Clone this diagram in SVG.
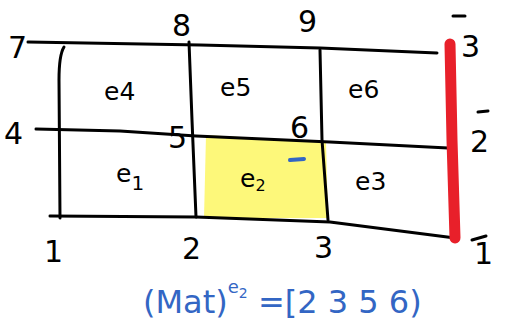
<svg xmlns="http://www.w3.org/2000/svg" width="511" height="329" viewBox="0 0 511 329">
<style>
.ln{fill:none;stroke:#000;stroke-width:3;stroke-linecap:round;stroke-linejoin:round}
.t{font-family:"DejaVu Sans",sans-serif;font-size:30px;fill:#000}
.e{font-family:"DejaVu Sans",sans-serif;font-size:25px;fill:#000}
.b{font-family:"DejaVu Sans",sans-serif;fill:#3366c4}
</style>
<rect width="511" height="329" fill="#fff"/>
<g id="highlight">
<path d="M206,135 L326,142 L328,218 L204,218 Z" fill="#fdf87a"/>
</g>
<g id="connectors">
<path class="ln" d="M28,42 L200,45 L320,48 L437,53"/>
<path class="ln" d="M36,129 L120,131 L196,136 L330,142 L448,148"/>
<path class="ln" d="M50,216 L196,217 L330,222 L455,238"/>
<path class="ln" d="M64,47 Q59,55 59,80 L60,218"/>
<path class="ln" d="M189,42 L192,120 L196,217"/>
<path class="ln" d="M320,50 L322,140 L328,220"/>
<path d="M450,44 L452,140 L455,238" fill="none" stroke="#e8202a" stroke-width="11" stroke-linecap="round"/>
<path d="M290,160 L304,159" stroke="#3366c4" stroke-width="4" stroke-linecap="round"/>
</g>
<g id="n7"><text class="t" x="8" y="58">7</text></g>
<g id="n8"><text class="t" x="172" y="36">8</text></g>
<g id="n9"><text class="t" x="298" y="32">9</text></g>
<g id="n3b"><text class="t" x="461" y="57">3</text><path class="ln" d="M453,16 L465,16" stroke-width="2"/></g>
<g id="n4"><text class="t" x="4" y="144">4</text></g>
<g id="n5"><text class="t" x="168" y="148">5</text></g>
<g id="n6"><text class="t" x="290" y="138">6</text></g>
<g id="n2b"><text class="t" x="470" y="152">2</text><path class="ln" d="M478,112 L488,111" stroke-width="2"/></g>
<g id="n1"><text class="t" x="44" y="262">1</text></g>
<g id="n2"><text class="t" x="182" y="259">2</text></g>
<g id="n3"><text class="t" x="314" y="258">3</text></g>
<g id="n1b"><text class="t" x="474" y="264">1</text><path class="ln" d="M472,240 L486,236" stroke-width="2"/></g>
<g id="e4"><text class="e" x="104" y="100">e4</text></g>
<g id="e5"><text class="e" x="220" y="96">e5</text></g>
<g id="e6"><text class="e" x="348" y="98">e6</text></g>
<g id="e1"><text class="e" x="116" y="182" font-size="34">e<tspan font-size="20" dy="8">1</tspan></text></g>
<g id="e2"><text class="e" x="240" y="187" fill="#9a9a1e">e<tspan font-size="16" dy="4">2</tspan></text></g>
<g id="e3"><text class="e" x="355" y="190">e3</text></g>
<g id="formula"><text class="b" x="143" y="313" font-size="32">(Mat)<tspan font-size="18" dy="-20">e<tspan font-size="14" dy="5">2</tspan></tspan><tspan dy="15" font-size="32"> =[2  3 5 6)</tspan></text></g>
</svg>
